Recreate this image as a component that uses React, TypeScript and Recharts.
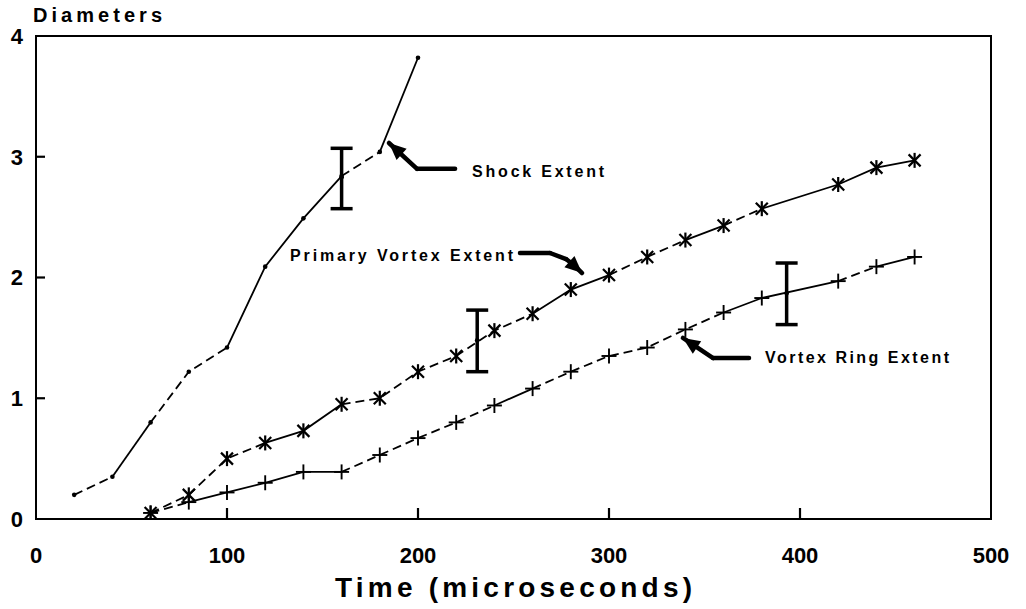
import React from 'react';
import {
  ComposedChart, Line, Scatter, XAxis, YAxis, ReferenceLine, ReferenceDot,
  ReferenceArea, ErrorBar,
} from 'recharts';

// ---- data ----
const shockTime = [20, 40, 60, 80, 100, 120, 140, 160, 180, 200];
const shockExtent = [0.2, 0.35, 0.8, 1.22, 1.42, 2.09, 2.49, 2.84, 3.04, 3.82];
const shockDashed = [true, false, true, true, false, false, false, true, false];

const vortexTime = [60, 80, 100, 120, 140, 160, 180, 200, 220, 240, 260, 280, 300, 320, 340, 360, 380, 420, 440, 460];
const primaryExtent = [0.05, 0.2, 0.5, 0.63, 0.73, 0.95, 1.0, 1.22, 1.35, 1.56, 1.7, 1.9, 2.02, 2.17, 2.31, 2.43, 2.57, 2.77, 2.91, 2.97];
const primaryDashed = [true, true, true, false, false, true, true, true, true, true, false, false, true, true, false, true, false, false, false];
const ringExtent = [0.05, 0.14, 0.22, 0.3, 0.39, 0.39, 0.53, 0.67, 0.8, 0.94, 1.08, 1.22, 1.35, 1.42, 1.57, 1.71, 1.83, 1.97, 2.09, 2.17];
const ringDashed = [true, false, false, false, false, true, true, true, true, false, true, true, true, true, true, false, false, true, false];

const errTime = [160, 231, 393];
const errCenter = [2.83, 1.48, 1.87];
const errLow = [0.26, 0.26, 0.26];
const errHigh = [0.24, 0.25, 0.25];

const xTicks = [0, 100, 200, 300, 400, 500];
const yTicks = [0, 1, 2, 3, 4];
const xInnerTicks = [100, 200, 300, 400];
const yInnerTicks = [1, 2, 3];

const FONT = '"Liberation Sans", Arial, Helvetica, sans-serif';

// annotation anchors (data coordinates)
const labels = [
  { text: 'Shock Extent', x: 228.3, y: 2.83, len: 132 },
  { text: 'Primary Vortex Extent', x: 133, y: 2.137, len: 223 },
  { text: 'Vortex Ring Extent', x: 381.7, y: 1.29, len: 184 },
];
const arrows = [
  { pts: [[219.4, 2.9], [199.5, 2.9], [184.8, 3.114]], angle: -138 },
  { pts: [[253.4, 2.203], [269.1, 2.203], [277.5, 2.153], [282.2, 2.095], [285.9, 2.037]], angle: 42 },
  { pts: [[373.3, 1.333], [354.5, 1.333], [338.7, 1.499]], angle: -146 },
];

// ---- helpers ----
type Pt = { x: number; y: number };
function runs(xs: number[], ys: number[], dashed: boolean[]) {
  const out: { dashed: boolean; data: Pt[] }[] = [];
  let start = 0;
  for (let i = 1; i <= dashed.length; i++) {
    if (i === dashed.length || dashed[i] !== dashed[start]) {
      out.push({
        dashed: dashed[start],
        data: xs.slice(start, i + 1).map((x, k) => ({ x, y: ys[start + k] })),
      });
      start = i;
    }
  }
  return out;
}
const toPts = (xs: number[], ys: number[]) => xs.map((x, i) => ({ x, y: ys[i] }));

const Asterisk = (p: any) => {
  const { cx, cy } = p;
  const s = 7.5, d = 6;
  return (
    <g stroke="#000" strokeWidth={2.2}>
      <line x1={cx} y1={cy - s} x2={cx} y2={cy + s} />
      <line x1={cx - d} y1={cy - d} x2={cx + d} y2={cy + d} />
      <line x1={cx - d} y1={cy + d} x2={cx + d} y2={cy - d} />
    </g>
  );
};
const Plus = (p: any) => {
  const { cx, cy } = p;
  const s = 7.5;
  return (
    <g stroke="#000" strokeWidth={1.9}>
      <line x1={cx} y1={cy - s} x2={cx} y2={cy + s} />
      <line x1={cx - s} y1={cy} x2={cx + s} y2={cy} />
    </g>
  );
};
const SmallDot = (p: any) => <circle cx={p.cx} cy={p.cy} r={2.3} fill="#000" />;
const UpTick = (p: any) => (
  <line x1={p.cx} y1={p.cy} x2={p.cx} y2={p.cy - 11} stroke="#000" strokeWidth={2.2} />
);
const RightTick = (p: any) => (
  <line x1={p.cx} y1={p.cy} x2={p.cx + 9} y2={p.cy} stroke="#000" strokeWidth={2.2} />
);

const headShape = (angle: number) => (p: any) => {
  const { cx, cy } = p;
  const a = (angle * Math.PI) / 180;
  const L = 17, W = 7.5;
  const rot = (x: number, y: number) => [cx + x * Math.cos(a) - y * Math.sin(a), cy + x * Math.sin(a) + y * Math.cos(a)];
  const p1 = rot(0, 0), p2 = rot(-L, -W), p3 = rot(-L, W);
  return <polygon points={`${p1[0]},${p1[1]} ${p2[0]},${p2[1]} ${p3[0]},${p3[1]}`} fill="#000" />;
};
const textShape = (text: string, len: number) => (p: any) => (
  <text x={p.cx} y={p.cy} fill="#000" fontFamily={FONT} fontWeight="bold" fontSize={16}
    textLength={len} lengthAdjust="spacing">{text}</text>
);

const tickStyle = { fill: '#000', fontSize: 22, fontWeight: 'bold', fontFamily: FONT };

export default function App() {
  const shockRuns = runs(shockTime, shockExtent, shockDashed);
  const primaryRuns = runs(vortexTime, primaryExtent, primaryDashed);
  const ringRuns = runs(vortexTime, ringExtent, ringDashed);
  const errData = errTime.map((x, i) => ({ x, y: errCenter[i], err: [errLow[i], errHigh[i]] }));
  const allRuns = [...shockRuns, ...primaryRuns, ...ringRuns];
  const xTickPts = xInnerTicks.map((x) => ({ x, y: yTicks[0] }));
  const yTickPts = yInnerTicks.map((y) => ({ x: xTicks[0], y }));

  return (
    <div style={{ position: 'absolute', left: 0, top: 0, width: 1026, height: 609, background: '#fff' }}>
      <ComposedChart width={1026} height={609} margin={{ top: 36, right: 35, bottom: 0, left: 0 }}>
        <XAxis
          type="number" dataKey="x" domain={[0, 500]} ticks={xTicks} allowDataOverflow interval={0}
          height={90} tickSize={0} tickMargin={28} tickLine={false}
          axisLine={{ stroke: '#000', strokeWidth: 2 }}
          tick={tickStyle}
          label={{
            content: (props: any) => {
              const vb = props.viewBox || {};
              return (
                <text x={vb.x + vb.width / 2} y={vb.y + vb.height - 12} textAnchor="middle"
                  fill="#000" fontFamily={FONT} fontSize={28} fontWeight="bold"
                  textLength={357} lengthAdjust="spacing">Time (microseconds)</text>
              );
            },
          }}
        />
        <YAxis
          type="number" dataKey="y" domain={[0, 4]} ticks={yTicks} allowDataOverflow interval={0}
          width={36} tickSize={0} tickMargin={13} tickLine={false}
          axisLine={{ stroke: '#000', strokeWidth: 2 }}
          tick={tickStyle}
          label={{
            content: (props: any) => {
              const vb = props.viewBox || {};
              return (
                <text x={vb.x + 33} y={vb.y - 14} fill="#000" fontFamily={FONT} fontSize={20}
                  fontWeight="bold" textLength={129} lengthAdjust="spacing">Diameters</text>
              );
            },
          }}
        />
        <ReferenceArea x1={0} x2={500} y1={0} y2={4} fill="none" stroke="#000" strokeWidth={2} ifOverflow="visible" />

        <Scatter data={xTickPts} shape={UpTick} isAnimationActive={false} />
        <Scatter data={yTickPts} shape={RightTick} isAnimationActive={false} />

        {allRuns.map((r, i) => (
          <Line key={`run${i}`} data={r.data} dataKey="y" type="linear" stroke="#000" strokeWidth={1.8}
            strokeDasharray={r.dashed ? '9 5' : undefined} dot={false} activeDot={false}
            isAnimationActive={false} legendType="none" />
        ))}

        <Scatter data={toPts(shockTime, shockExtent)} shape={SmallDot} isAnimationActive={false} />
        <Scatter data={toPts(vortexTime, primaryExtent)} shape={Asterisk} isAnimationActive={false} />
        <Scatter data={toPts(vortexTime, ringExtent)} shape={Plus} isAnimationActive={false} />
        <Scatter data={errData} shape={SmallDot} isAnimationActive={false}>
          <ErrorBar dataKey="err" direction="y" width={11} strokeWidth={3.5} stroke="#000" isAnimationActive={false} />
        </Scatter>

        {arrows.map((a, i) =>
          a.pts.slice(0, -1).map((p, k) => (
            <ReferenceLine key={`ar${i}-${k}`} segment={[{ x: p[0], y: p[1] }, { x: a.pts[k + 1][0], y: a.pts[k + 1][1] }]}
              stroke="#000" strokeWidth={4.5} strokeLinecap="round" ifOverflow="visible" />
          ))
        )}
        {arrows.map((a, i) => (
          <ReferenceDot key={`ah${i}`} x={a.pts[a.pts.length - 1][0]} y={a.pts[a.pts.length - 1][1]}
            r={1} shape={headShape(a.angle)} ifOverflow="visible" />
        ))}
        {labels.map((l, i) => (
          <ReferenceDot key={`lb${i}`} x={l.x} y={l.y} r={1} shape={textShape(l.text, l.len)} ifOverflow="visible" />
        ))}
      </ComposedChart>
    </div>
  );
}
